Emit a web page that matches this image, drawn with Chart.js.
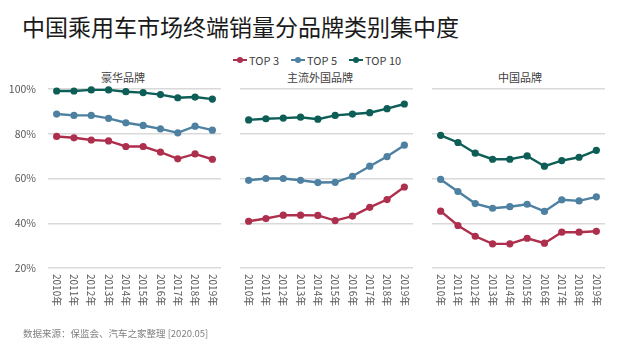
<!DOCTYPE html>
<html>
<head>
<meta charset="utf-8">
<script src="https://cdn.jsdelivr.net/npm/chart.js@4.4.1/dist/chart.umd.min.js"></script>
<style>
  html,body{margin:0;padding:0;background:#fff;}
  body{width:620px;height:348px;position:relative;overflow:hidden;font-family:"Noto Sans CJK SC","Noto Sans",sans-serif;}
  .abs{position:absolute;}
  #title{left:22px;top:10px;font-size:23px;color:#1a1a1a;white-space:nowrap;line-height:32px;}
  #legend{left:233px;top:52px;display:flex;align-items:center;font-size:11px;color:#404040;line-height:16px;white-space:nowrap;}
  .item{display:flex;align-items:center;margin-right:12px;}
  .mk{position:relative;width:14px;height:8px;margin-right:2px;}
  .mk .ln{position:absolute;left:0;top:3px;width:14px;height:2.4px;}
  .mk .dt{position:absolute;left:4px;top:1px;width:6px;height:6px;border-radius:50%;}
  .ptitle{top:68px;font-size:11px;color:#404040;text-align:center;white-space:nowrap;line-height:18px;}
  #foot{left:23px;top:325px;font-size:9.5px;color:#808080;white-space:nowrap;line-height:16px;}
  canvas{position:absolute;top:0;}
</style>
</head>
<body>
<div id="title" class="abs">中国乘用车市场终端销量分品牌类别集中度</div>
<div id="legend" class="abs"></div>
<div class="abs ptitle" style="left:73px;width:100px;">豪华品牌</div>
<div class="abs ptitle" style="left:270px;width:100px;">主流外国品牌</div>
<div class="abs ptitle" style="left:470px;width:100px;">中国品牌</div>
<canvas id="c1" width="246" height="348" style="left:0px"></canvas>
<canvas id="c2" width="190" height="348" style="left:230px"></canvas>
<canvas id="c3" width="200" height="348" style="left:420px"></canvas>
<div id="foot" class="abs">数据来源：保监会、汽车之家整理 [2020.05]</div>
<script>
// ---- data ----
const years = ['2010年','2011年','2012年','2013年','2014年','2015年','2016年','2017年','2018年','2019年'];
const seriesNames = ['TOP 3','TOP 5','TOP 10'];
const panelTitles = ['豪华品牌','主流外国品牌','中国品牌'];
const yTicks = [20, 40, 60, 80, 100];

const luxTop3  = [78.8, 78.2, 77.2, 76.8, 74.3, 74.3, 71.8, 68.8, 71.0, 68.6];
const luxTop5  = [88.8, 88.2, 88.2, 86.9, 84.9, 83.7, 82.2, 80.4, 83.4, 81.6];
const luxTop10 = [99.1, 99.1, 99.6, 99.6, 98.8, 98.4, 97.5, 96.1, 96.4, 95.5];

const forTop3  = [40.9, 42.1, 43.6, 43.6, 43.5, 41.2, 43.2, 47.1, 50.6, 56.2];
const forTop5  = [59.2, 60.0, 60.0, 59.2, 58.2, 58.3, 61.0, 65.5, 69.8, 74.9];
const forTop10 = [86.2, 86.7, 87.0, 87.4, 86.5, 88.2, 88.8, 89.4, 91.2, 93.3];

const chnTop3  = [45.4, 39.0, 34.2, 30.8, 30.8, 33.3, 31.1, 36.0, 36.0, 36.4];
const chnTop5  = [59.6, 54.2, 48.8, 46.7, 47.4, 48.5, 45.3, 50.5, 50.0, 51.8];
const chnTop10 = [79.3, 76.1, 71.3, 68.6, 68.6, 70.1, 65.5, 68.0, 69.5, 72.6];

const colors = ['#ae2f4d', '#4d80a1', '#0d5e56'];

// ---- legend ----
const lg = document.getElementById('legend');
seriesNames.forEach((n,i)=>{
  const it = document.createElement('div'); it.className='item';
  it.innerHTML = '<div class="mk"><div class="ln" style="background:'+colors[i]+'"></div><div class="dt" style="background:'+colors[i]+'"></div></div><span>'+n+'</span>';
  lg.appendChild(it);
});

Chart.defaults.font.family = '"Noto Sans CJK SC","Noto Sans",sans-serif';

const vLabels = {
  id:'vLabels',
  afterDraw(chart){
    const ctx = chart.ctx, x = chart.scales.x;
    ctx.save();
    ctx.font = '10px "Noto Sans CJK SC"';
    ctx.fillStyle = '#595959';
    ctx.textAlign = 'left';
    ctx.textBaseline = 'middle';
    chart.data.labels.forEach((lab,i)=>{
      const px = x.getPixelForValue(i);
      ctx.save();
      ctx.translate(px, x.top + 6);
      ctx.rotate(Math.PI/2);
      ctx.fillText(lab, 0, 0);
      ctx.restore();
    });
    ctx.restore();
  }
};

function makeChart(id, sets, yWidth, rightPad, showY){
  new Chart(document.getElementById(id), {
    type:'line',
    data:{
      labels: years,
      datasets: sets.map((d,i)=>({
        label: seriesNames[i], data: d,
        borderColor: colors[i], backgroundColor: colors[i],
        pointBackgroundColor: colors[i], pointBorderColor: colors[i],
        borderWidth: 2.4, pointRadius: 3.6, pointBorderWidth: 0,
        tension: 0, clip: false
      }))
    },
    options:{
      responsive:false, animation:false,
      layout:{padding:{top:89, bottom:35, left:0, right:rightPad}},
      plugins:{legend:{display:false}, title:{display:false}, tooltip:{enabled:false}},
      scales:{
        x:{
          offset:true,
          grid:{display:false}, border:{display:false},
          ticks:{display:false},
          afterFit(s){ s.height = 45; }
        },
        y:{
          min:20, max:100,
          afterBuildTicks(s){ s.ticks = yTicks.map(v=>({value:v})); },
          grid:{color:'#d9d9d9', lineWidth:1.5, drawTicks:false},
          border:{display:false},
          ticks:{display:showY, padding:12, color:'#595959', font:{size:10.5}, callback:v=>v+'%'},
          afterFit(s){ s.width = yWidth; }
        }
      }
    },
    plugins:[vLabels]
  });
}

makeChart('c1', [luxTop3, luxTop5, luxTop10], 48, 25, true);
makeChart('c2', [forTop3, forTop5, forTop10], 10, 7, false);
makeChart('c3', [chnTop3, chnTop5, chnTop10], 12, 15, false);
</script>
</body>
</html>
